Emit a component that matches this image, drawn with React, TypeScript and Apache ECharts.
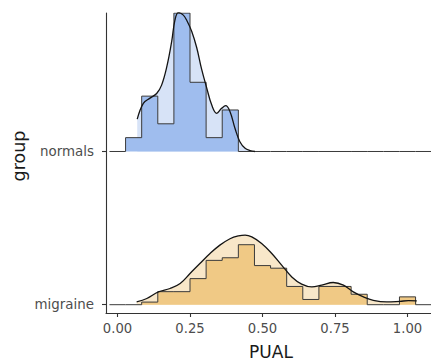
import React, { useEffect, useRef } from "react";
import * as echarts from "echarts";

// ---- data ----
const groups = ["migraine", "normals"]; // y positions 1 and 2
const xTicks = [0, 0.25, 0.5, 0.75, 1.0];
const binWidth = 1 / 18;
const paddedBins = 20; // bin centres 0 .. 19 * binWidth (zero-padded ends)

const normalsCounts = [1, 4, 2, 10, 5, 1, 3];
const normalsFirstBin = 1;
const migraineCounts = [1, 5, 5, 10, 17, 18, 23, 15, 14, 7, 2, 7, 7, 4, 0, 0, 3];
const migraineFirstBin = 2;

const normalsDensX = [0.068, 0.089, 0.112, 0.135, 0.152, 0.17, 0.187, 0.198, 0.21, 0.227, 0.239, 0.256, 0.273, 0.29, 0.308, 0.325, 0.342, 0.359, 0.373, 0.388, 0.405, 0.422, 0.44, 0.457, 0.474];
const normalsDensY = [1.62, 2.41, 2.67, 2.9, 3.32, 4.24, 5.52, 6.57, 6.95, 6.82, 6.55, 6.0, 5.2, 4.12, 3.16, 2.32, 1.91, 2.16, 2.29, 1.99, 1.16, 0.49, 0.16, 0.05, 0.0];

const migraineDensX = [0.066, 0.101, 0.141, 0.181, 0.216, 0.25, 0.284, 0.319, 0.353, 0.388, 0.417, 0.44, 0.463, 0.497, 0.532, 0.566, 0.601, 0.635, 0.67, 0.704, 0.744, 0.779, 0.813, 0.848, 0.882, 0.928, 0.974, 1.003, 1.032];
const migraineDensY = [0.14, 0.31, 0.64, 0.81, 1.06, 1.56, 2.06, 2.56, 2.98, 3.3, 3.44, 3.48, 3.39, 3.06, 2.56, 1.98, 1.39, 1.03, 0.89, 0.98, 1.11, 0.98, 0.64, 0.39, 0.22, 0.14, 0.17, 0.2, 0.19];

const ridgeScale = 0.1305; // y units per density unit

const FONT = "DejaVu Sans";

function histData(counts: number[], first: number, base: number) {
  const n = counts.reduce((a, b) => a + b, 0);
  const pts: number[][] = [];
  for (let k = 0; k < paddedBins; k++) {
    const c = counts[k - first] ?? 0;
    const d = c / (n * binWidth);
    pts.push([(k - 0.5) * binWidth, base + d * ridgeScale]);
  }
  pts.push([(paddedBins - 0.5) * binWidth, base]);
  return pts;
}

function densData(xs: number[], ys: number[], base: number) {
  return xs.map((x, i) => [x, base + ys[i] * ridgeScale]);
}

function ridgeSeries(
  xs: number[],
  ys: number[],
  counts: number[],
  first: number,
  base: number,
  light: string,
  dark: string
) {
  const dens = densData(xs, ys, base);
  return [
    {
      type: "line",
      data: dens,
      smooth: 0.4,
      symbol: "none",
      z: 2,
      lineStyle: { width: 0 },
      areaStyle: { color: light, opacity: 1, origin: base },
    },
    {
      type: "line",
      data: histData(counts, first, base),
      step: "end",
      symbol: "none",
      z: 3,
      lineStyle: { color: "#3a3a3a", width: 1 },
      areaStyle: { color: dark, opacity: 1, origin: base },
    },
    {
      type: "line",
      data: dens,
      smooth: 0.4,
      symbol: "none",
      z: 4,
      lineStyle: { color: "#141414", width: 1.3 },
    },
  ];
}

export default function App() {
  const ref = useRef<HTMLDivElement>(null);
  useEffect(() => {
    if (!ref.current) return;
    const chart = echarts.init(ref.current, undefined, { renderer: "svg" });
    const option: any = {
      animation: false,
      grid: { left: 106, right: 0, top: 13, bottom: 49, containLabel: false, outerBoundsMode: "none" },
      xAxis: {
        type: "value",
        min: -0.0397,
        max: 1.081,
        axisLine: { show: true, onZero: false, lineStyle: { color: "#333333", width: 1.1 } },
        axisTick: { show: true, customValues: xTicks, length: 4, lineStyle: { color: "#333333", width: 1.1 } },
        axisLabel: {
          customValues: xTicks,
          formatter: (v: number) => v.toFixed(2),
          fontSize: 13.2,
          color: "#4d4d4d",
          fontFamily: FONT,
          margin: 9,
        },
        splitLine: { show: false },
      },
      yAxis: {
        type: "value",
        min: 0.9458,
        max: 2.904,
        axisLine: { show: true, onZero: false, lineStyle: { color: "#333333", width: 1.1 } },
        axisTick: { show: true, customValues: [1, 2], length: 4, lineStyle: { color: "#333333", width: 1.1 } },
        axisLabel: {
          customValues: [1, 2],
          formatter: (v: number) => groups[Math.round(v) - 1] ?? "",
          fontSize: 13.4,
          color: "#4d4d4d",
          fontFamily: FONT,
          margin: 12,
        },
        splitLine: { show: false },
      },
      series: [
        ...ridgeSeries(normalsDensX, normalsDensY, normalsCounts, normalsFirstBin, 2, "#d7e3f7", "#9fbdee"),
        ...ridgeSeries(migraineDensX, migraineDensY, migraineCounts, migraineFirstBin, 1, "#f8e7c9", "#f0c985"),
      ],
      graphic: [
        {
          type: "text",
          x: 19,
          y: 156,
          rotation: Math.PI / 2,
          style: {
            text: "group",
            fontSize: 17.5,
            fontFamily: FONT,
            fill: "#1a1a1a",
            align: "center",
            verticalAlign: "middle",
          },
        },
        {
          type: "text",
          x: 271,
          y: 352,
          style: {
            text: "PUAL",
            fontSize: 17,
            fontFamily: FONT,
            fill: "#1a1a1a",
            align: "center",
            verticalAlign: "middle",
          },
        },
      ],
    };
    chart.setOption(option);
    return () => chart.dispose();
  }, []);
  return (
    <div
      ref={ref}
      style={{ position: "absolute", left: 0, top: 0, width: 431, height: 362 }}
    />
  );
}
